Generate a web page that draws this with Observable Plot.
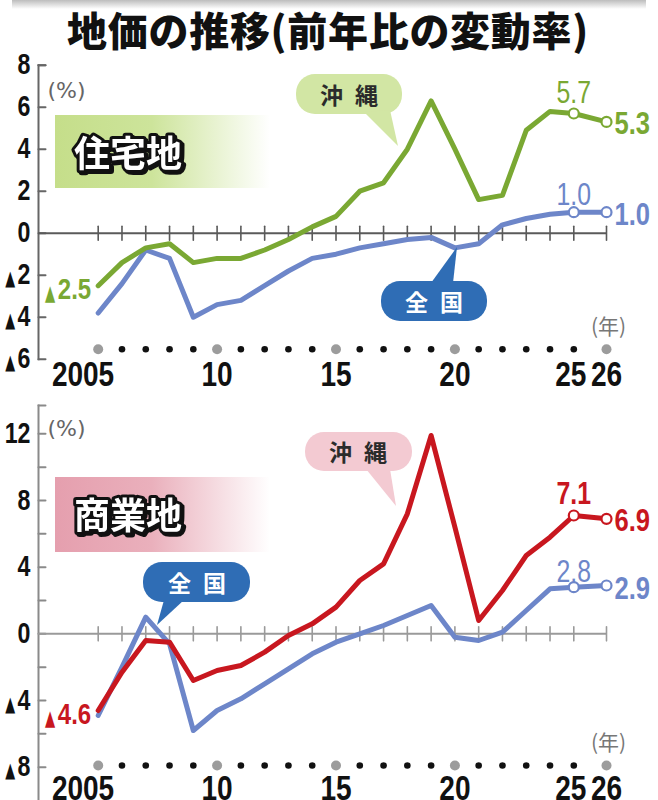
<!DOCTYPE html>
<html lang="ja">
<head>
<meta charset="utf-8">
<script src="https://cdn.jsdelivr.net/npm/d3@7"></script>
<script src="https://cdn.jsdelivr.net/npm/@observablehq/plot@0.6"></script>
<style>
html,body{margin:0;padding:0;background:#fff;}
#wrap{position:relative;width:658px;height:800px;overflow:hidden;background:#fff;}
.abs{position:absolute;}
#topbar{left:12px;right:12px;top:0;height:9px;background:linear-gradient(#bdbdbd,rgba(255,255,255,0));}
#title{left:0;width:656px;top:4px;text-align:center;font-family:"Noto Sans CJK JP",sans-serif;font-weight:900;font-size:40px;line-height:50px;color:#111;white-space:nowrap;letter-spacing:0.7px;}
#band1{left:55px;width:215px;top:115px;height:73px;background:linear-gradient(to right,#c5de8a 0%,#cde49b 45%,rgba(255,255,255,0) 100%);}
#band2{left:55px;width:215px;top:477px;height:75px;background:linear-gradient(to right,#e59fae 0%,#eab0bc 45%,rgba(255,255,255,0) 100%);}
#chart1{left:0;top:50px;}
#chart2{left:0;top:395px;}
#overlay{left:0;top:0;pointer-events:none;}
.boxlabel{filter:drop-shadow(2px 2px 0 #111);}
</style>
</head>
<body>
<div id="wrap">
  <div id="topbar" class="abs"></div>
  <div id="title" class="abs">地価の推移(前年比の変動率)</div>
  <div id="band1" class="abs"></div>
  <div id="band2" class="abs"></div>
  <div id="chart1" class="abs"></div>
  <div id="chart2" class="abs"></div>
  <svg id="overlay" class="abs" width="658" height="800">
    <g font-family="Noto Sans CJK JP, sans-serif" font-weight="700" font-size="36" text-anchor="middle" dominant-baseline="central" stroke-linejoin="round">
      <text class="boxlabel" x="128" y="151" fill="#fff" stroke="#111" stroke-width="6" paint-order="stroke">住宅地</text>
      <text class="boxlabel" x="128" y="513" fill="#fff" stroke="#111" stroke-width="6" paint-order="stroke">商業地</text>
    </g>
    <g font-family="Noto Sans CJK JP, sans-serif" font-weight="700" font-size="23" text-anchor="middle" dominant-baseline="central" letter-spacing="12">
      <rect x="296" y="74" width="106" height="40" rx="19" fill="#d2e6a4"/>
      <polygon points="364,112 390,110 398,146" fill="#d2e6a4"/>
      <text x="355" y="94" fill="#2b2b2b">沖縄</text>

      <rect x="381" y="281" width="106" height="40" rx="19" fill="#2f6db5"/>
      <polygon points="431,283 453,283 457,247" fill="#2f6db5"/>
      <text x="440" y="301" fill="#fff">全国</text>

      <rect x="143" y="562" width="107" height="40" rx="19" fill="#2f6db5"/>
      <polygon points="164,600 184,600 157,625" fill="#2f6db5"/>
      <text x="203" y="582" fill="#fff">全国</text>

      <rect x="305" y="432" width="107" height="39" rx="19" fill="#f3cad2"/>
      <polygon points="366,469 390,469 396,506" fill="#f3cad2"/>
      <text x="364" y="451" fill="#2b2b2b">沖縄</text>
    </g>
  </svg>
</div>
<script>
// ---------- data ----------
const years = [2005,2006,2007,2008,2009,2010,2011,2012,2013,2014,2015,2016,2017,2018,2019,2020,2021,2022,2023,2024,2025,2026];
// 住宅地 (residential)
const resOkinawa  = [-2.5,-1.4,-0.7,-0.5,-1.4,-1.2,-1.2,-0.8,-0.3,0.3,0.8,2.0,2.4,4.0,6.3,4.0,1.6,1.8,4.9,5.8,5.7,5.3];
const resNational = [-3.8,-2.4,-0.8,-1.2,-4.0,-3.4,-3.2,-2.5,-1.8,-1.2,-1.0,-0.7,-0.5,-0.3,-0.2,-0.7,-0.5,0.4,0.7,0.9,1.0,1.0];
// 商業地 (commercial)
const comOkinawa  = [-4.6,-2.3,-0.4,-0.5,-2.8,-2.2,-1.9,-1.1,-0.1,0.6,1.6,3.2,4.2,7.2,11.9,6.4,0.8,2.6,4.7,5.8,7.1,6.9];
const comNational = [-4.9,-2.0,1.0,-0.6,-5.8,-4.6,-3.9,-3.0,-2.1,-1.2,-0.5,0.0,0.5,1.1,1.7,-0.2,-0.4,0.1,1.4,2.7,2.8,2.9];

const xTickYears  = [2005,2010,2015,2020,2025,2026];
const xTickLabels = ["2005","10","15","20","25","26"];
const grayDotYears = [2005,2010,2015,2020,2026];
const resYTicks  = [-6,-4,-2,0,2,4,6,8];
const resYLabels = [-6,-4,-2,0,2,4,6,8];
const comYTicks  = [-8,-6,-4,-2,0,2,4,6,8,10,12];
const comYLabels = [-8,-4,0,4,8,12];

// ---------- style ----------
const NUM = '"Liberation Sans",Arial,sans-serif';
const SQUEEZE = 0.8;
const GREEN = "#7aa833", BLUE = "#6d86c9", RED = "#c8171f";
const fmtTick = v => v < 0 ? "▲" + Math.abs(v) : String(v);
const fmtVal  = v => v < 0 ? "▲" + Math.abs(v).toFixed(1) : v.toFixed(1);
const tickShape = {draw(ctx, l) { ctx.moveTo(0, 0); ctx.lineTo(0, -l); }};
const xLabel = d => xTickLabels[xTickYears.indexOf(d)];

function chart(cfg) {
  const rows = years.map((year, i) => ({year, ok: cfg.ok[i], nat: cfg.nat[i]}));
  const last2 = rows.filter(d => d.year >= 2025);
  const r25 = rows.filter(d => d.year === 2025);
  const r26 = rows.filter(d => d.year === 2026);
  const r05 = rows.filter(d => d.year === 2005);
  const txt = {fontFamily: NUM, fontWeight: "bold"};
  const xl = {frameAnchor: "bottom", dy: cfg.labDy, fontSize: 35, fill: "#111", ...txt};
  return Plot.plot({
    width: 658, height: cfg.height,
    marginLeft: 38, marginRight: 52, marginTop: cfg.mt, marginBottom: cfg.mb,
    x: {type: "linear", domain: [2005, 2025, 2026], range: [97.7, 573.3, 606], axis: null},
    y: {domain: cfg.yDomain, axis: null},
    style: {background: "transparent", overflow: "visible"},
    marks: [
      Plot.frame({anchor: "left", stroke: cfg.axisColor, strokeWidth: 2}),
      Plot.vector(cfg.yTicks, {y: d => d, frameAnchor: "left", rotate: 90, length: 7, anchor: "start", shape: tickShape, stroke: cfg.axisColor, strokeWidth: 2}),
      Plot.vector([0], {frameAnchor: "top-left", rotate: 90, length: 7, anchor: "start", shape: tickShape, stroke: cfg.axisColor, strokeWidth: 2}),
      Plot.text(cfg.yLabels, {y: d => d, text: fmtTick, frameAnchor: "left", textAnchor: "end", dx: -8, fontSize: 29, fill: "#111", ...txt}),
      Plot.ruleY([0], {stroke: cfg.zeroColor, strokeWidth: 2}),
      Plot.vector(years, {x: d => d, y: () => 0, length: 14, anchor: "middle", shape: tickShape, stroke: cfg.zeroColor, strokeWidth: 1.6}),
      Plot.dot(years.filter(y => !grayDotYears.includes(y)), {x: d => d, frameAnchor: "bottom", dy: cfg.dotDy, r: 3.3, fill: "#111"}),
      Plot.dot(grayDotYears, {x: d => d, frameAnchor: "bottom", dy: cfg.dotDy, r: 5, fill: "#9c9c9c"}),
      Plot.text(xTickYears.filter(d => d === 2005), {x: d => d, text: xLabel, textAnchor: "end", dx: 16, ...xl}),
      Plot.text(xTickYears.filter(d => d !== 2005 && d !== 2025), {x: d => d, text: xLabel, ...xl}),
      Plot.text(xTickYears.filter(d => d === 2025), {x: d => d, text: xLabel, dx: -3, ...xl}),
      Plot.text(["(%)"], {frameAnchor: "top-left", dx: 9, dy: cfg.pctDy, textAnchor: "start", fontSize: 22, fill: "#666", fontFamily: "DejaVu Sans, sans-serif"}),
      Plot.text(["(年)"], {x: () => 2026, frameAnchor: "bottom", dx: 2, dy: cfg.nenDy, fontSize: 21, fill: "#777", fontFamily: "Noto Sans CJK JP, sans-serif"}),
      Plot.line(rows, {x: "year", y: "nat", stroke: BLUE, strokeWidth: 5, strokeLinejoin: "round"}),
      Plot.line(rows, {x: "year", y: "ok", stroke: cfg.color, strokeWidth: 5, strokeLinejoin: "round"}),
      Plot.dot(last2, {x: "year", y: "nat", r: 5, fill: "white", stroke: BLUE, strokeWidth: 2.2}),
      Plot.dot(last2, {x: "year", y: "ok", r: 5, fill: "white", stroke: cfg.color, strokeWidth: 2.2}),
      Plot.text(r25, {x: "year", y: "ok", text: d => fmtVal(d.ok), dy: cfg.d25ok, fontSize: 31, fill: cfg.color, fontFamily: NUM, fontWeight: cfg.w25ok}),
      Plot.text(r25, {x: "year", y: "nat", text: d => fmtVal(d.nat), dy: cfg.d25nat, fontSize: 31, fill: BLUE, fontFamily: NUM}),
      Plot.text(r26, {x: "year", y: "ok", text: d => fmtVal(d.ok), dx: 8, dy: 2, textAnchor: "start", fontSize: 32, fill: cfg.color, ...txt}),
      Plot.text(r26, {x: "year", y: "nat", text: d => fmtVal(d.nat), dx: 8, dy: 3, textAnchor: "start", fontSize: 32, fill: BLUE, ...txt}),
      Plot.text(r05, {x: "year", y: "ok", text: d => fmtVal(d.ok), dx: -7, dy: 4, textAnchor: "end", fontSize: 30, fill: cfg.color, ...txt})
    ]
  });
}

// Squeeze number glyphs (condensed look) and draw the "▲" minus sign as its own narrow text
function fixText(svg) {
  const ns = "http://www.w3.org/2000/svg";
  svg.querySelectorAll("text").forEach(t => {
    const cs = getComputedStyle(t);
    if (!cs.fontFamily.includes("Liberation")) return;
    const s = t.textContent;
    const neg = s.startsWith("▲");
    if (neg) t.textContent = s.slice(1);
    const w = t.getComputedTextLength();
    t.setAttribute("textLength", (w * SQUEEZE).toFixed(1));
    t.setAttribute("lengthAdjust", "spacingAndGlyphs");
    if (neg) {
      const fs = parseFloat(cs.fontSize);
      const bb = t.getBBox();
      const baseline = bb.y + 0.905 * fs;
      const tw = 0.34 * fs;
      const tri = document.createElementNS(ns, "text");
      if (t.getAttribute("transform")) tri.setAttribute("transform", t.getAttribute("transform"));
      tri.setAttribute("x", (bb.x - tw / 2 - 2.5).toFixed(1));
      tri.setAttribute("y", (baseline + 0.02 * fs).toFixed(1));
      tri.setAttribute("text-anchor", "middle");
      tri.setAttribute("font-family", "DejaVu Sans, sans-serif");
      tri.setAttribute("font-size", (0.72 * fs).toFixed(1));
      tri.setAttribute("textLength", tw.toFixed(1));
      tri.setAttribute("lengthAdjust", "spacingAndGlyphs");
      tri.textContent = "▲";
      t.parentNode.appendChild(tri);
    }
  });
}

const c1 = chart({ok: resOkinawa, nat: resNational, color: GREEN, height: 345, mt: 14.7, mb: 36.3,
  yDomain: [-6, 8], yTicks: resYTicks, yLabels: resYLabels, axisColor: "#666", zeroColor: "#5a5a5a",
  dotDy: -10, labDy: 27, pctDy: 17, nenDy: -25, d25ok: -20, d25nat: -17, w25ok: "normal"});
const c2 = chart({ok: comOkinawa, nat: comNational, color: RED, height: 405, mt: 10, mb: 0,
  yDomain: [-10, 13.7], yTicks: comYTicks, yLabels: comYLabels, axisColor: "#8a8a8a", zeroColor: "#9a9a9a",
  dotDy: -35, labDy: -1, pctDy: 15, nenDy: -51, d25ok: -21, d25nat: -15, w25ok: "bold"});
document.getElementById("chart1").appendChild(c1);
document.getElementById("chart2").appendChild(c2);
fixText(c1); fixText(c2);
</script>
</body>
</html>
